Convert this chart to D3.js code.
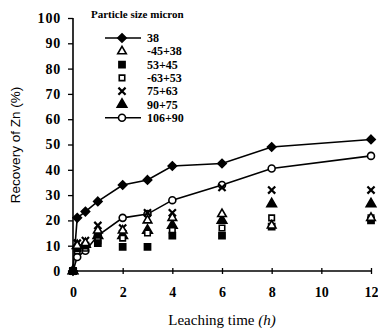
<!DOCTYPE html>
<html>
<head>
<meta charset="utf-8">
<script src="https://cdn.jsdelivr.net/npm/d3@7"></script>
<style>
  body { margin: 0; background: #fff; }
</style>
</head>
<body>
<div id="chart"></div>
<script>
var times = [0, 0.17, 0.5, 1, 2, 3, 4, 6, 8, 12];
var seriesNames = ["38", "-45+38", "53+45", "-63+53", "75+63", "90+75", "106+90"];
var s38 = [0, 21, 23.5, 27.5, 34, 36, 41.5, 42.5, 49, 52];
var s45_38 = [0, 10, 11, 16, 16, 20, 21, 22.5, 18, 21];
var s53_45 = [0, 9, 10, 11, 9.5, 9.5, 14, 14, 17.5, 20];
var s63_53 = [0, 8, 9, 12, 13, 15, 16, 17, 21, 21];
var s75_63 = [0, 11, 12, 18, 17, 23, 23, 33, 32, 32];
var s90_75 = [0, 10, 10.5, 14, 14, 16, 18, 20, 26.5, 26.5];
var s106_90 = [0, 5.5, 8, 14, 21, 22.5, 28, 34, 40.5, 45.5];
var xTicks = [0, 2, 4, 6, 8, 10, 12];
var yTicks = [0, 10, 20, 30, 40, 50, 60, 70, 80, 90, 100];

var SERIF = "Liberation Serif";
var SANS = "Liberation Sans";

var w = 378, h = 328;
var svg = d3.select("#chart").append("svg").attr("width", w).attr("height", h);

var x = d3.scaleLinear().domain([0, 12]).range([73, 371]);
var y = d3.scaleLinear().domain([0, 100]).range([271, 18]);

var series = [
    {vals: s38, sym: d3.symbolDiamond2, fill: true, line: true, size: 45},
    {vals: s45_38, sym: d3.symbolTriangle, fill: false, line: false, size: 32},
    {vals: s53_45, sym: d3.symbolSquare, fill: true, line: false, size: 38},
    {vals: s63_53, sym: d3.symbolSquare, fill: false, line: false, size: 30},
    {vals: s75_63, sym: d3.symbolX, fill: false, line: false, size: 35},
    {vals: s90_75, sym: d3.symbolTriangle, fill: true, line: false, size: 40},
    {vals: s106_90, sym: d3.symbolCircle, fill: false, line: true, size: 38}
];

// axes
var xAxis = d3.axisBottom(x).tickValues(xTicks).tickSize(4).tickFormat(d3.format("d"));
var gx = svg.append("g").attr("transform", "translate(0," + y(0) + ")").call(xAxis);
gx.attr("font-family", SERIF);
gx.select(".domain").attr("d", "M" + x(0) + ",0H" + x(12)).attr("stroke-width", 1.6);
gx.selectAll(".tick line").attr("y1", -3).attr("y2", 3).attr("stroke-width", 1.3);
gx.selectAll(".tick text").attr("y", 16).attr("font-size", 14).attr("font-weight", "bold");

var yAxis = d3.axisLeft(y).tickValues(yTicks).tickSize(5).tickPadding(7);
var gy = svg.append("g").attr("transform", "translate(" + x(0) + ",0)").call(yAxis);
gy.attr("font-family", SERIF);
gy.select(".domain").attr("d", "M0," + y(0) + "V" + y(100)).attr("stroke-width", 1.6);
gy.selectAll(".tick line").attr("stroke-width", 1.3);
gy.selectAll(".tick text").attr("font-size", 14).attr("font-weight", "bold")
    .attr("letter-spacing", 0.8);

// axis titles
svg.append("text")
    .attr("transform", "translate(20,145) rotate(-90)")
    .attr("text-anchor", "middle")
    .attr("font-family", SANS)
    .attr("font-size", 13.5)
    .text("Recovery of Zn (%)");

var xt = svg.append("text").attr("x", 222).attr("y", 325).attr("text-anchor", "middle")
    .attr("font-family", SERIF).attr("font-size", 15);
xt.append("tspan").text("Leaching time ");
xt.append("tspan").attr("font-style", "italic").text("(h)");

// data
var line = d3.line().x(function(d, i){ return x(times[i]); }).y(function(d){ return y(d); });

series.forEach(function(s){
    if (s.line) {
        svg.append("path").datum(s.vals).attr("d", line)
            .attr("fill", "none").attr("stroke", "#000").attr("stroke-width", 1.6);
    }
});

function drawSym(g, s) {
    var p = g.append("path").attr("d", d3.symbol().type(s.sym).size(s.size));
    if (s.sym === d3.symbolX) {
        p.attr("fill", "none").attr("stroke", "#000").attr("stroke-width", 2.2);
    } else {
        p.attr("fill", s.fill ? "#000" : "#fff").attr("stroke", "#000").attr("stroke-width", 1.6);
    }
}

series.slice().reverse().forEach(function(s){
    svg.selectAll(null).data(s.vals).enter().append("g")
        .attr("transform", function(d, i){ return "translate(" + x(times[i]) + "," + y(d) + ")"; })
        .each(function(){ drawSym(d3.select(this), s); });
});

// legend
svg.append("text").attr("x", 91).attr("y", 18)
    .attr("font-family", SERIF).attr("font-size", 11).attr("font-weight", "bold")
    .text("Particle size micron");

var leg = svg.append("g");
series.forEach(function(s, i){
    var ly = 38 + i * 13.3;
    if (s.line) {
        leg.append("line").attr("x1", 105).attr("x2", 141).attr("y1", ly).attr("y2", ly)
            .attr("stroke", "#000").attr("stroke-width", 1.6);
    }
    var g = leg.append("g").attr("transform", "translate(122," + ly + ")");
    drawSym(g, s);
    leg.append("text").attr("x", 147).attr("y", ly + 4)
        .attr("font-family", SERIF).attr("font-size", 12).attr("font-weight", "bold")
        .text(seriesNames[i]);
});
</script>
</body>
</html>
